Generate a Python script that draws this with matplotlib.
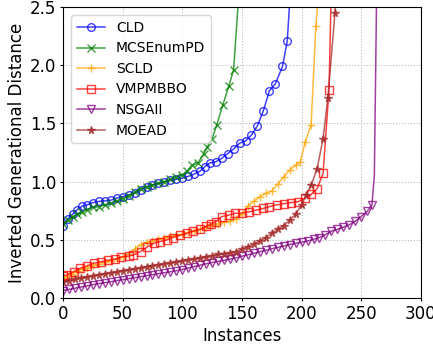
import matplotlib
matplotlib.use("Agg")
import matplotlib.pyplot as plt

# values (sorted IGD per instance)
cld_x = [0, 4, 8, 12, 16, 20, 25, 30, 35, 40, 45, 50, 55, 60, 65, 70, 75, 80,
         85, 90, 95, 100, 105, 110, 115, 119, 123, 128, 133, 138, 143, 148,
         153, 158, 163, 168, 173, 178, 184, 188, 191]
cld_y = [0.62, 0.68, 0.72, 0.76, 0.79, 0.80, 0.82, 0.83, 0.835, 0.84, 0.86,
         0.87, 0.885, 0.90, 0.93, 0.955, 0.97, 0.985, 1.0, 1.01, 1.02, 1.03,
         1.045, 1.065, 1.09, 1.13, 1.16, 1.17, 1.20, 1.24, 1.28, 1.33, 1.35,
         1.40, 1.48, 1.61, 1.78, 1.84, 1.99, 2.21, 2.7]

mcs_x = [0, 4, 8, 12, 16, 20, 25, 30, 35, 40, 45, 50, 55, 60, 65, 70, 75, 80,
         85, 90, 95, 100, 104, 108, 113, 118, 121, 125, 129, 134, 139, 143, 148]
mcs_y = [0.64, 0.67, 0.70, 0.72, 0.74, 0.76, 0.78, 0.785, 0.80, 0.815, 0.835,
         0.855, 0.88, 0.91, 0.94, 0.955, 0.97, 0.985, 1.0, 1.02, 1.04, 1.06,
         1.09, 1.14, 1.16, 1.24, 1.30, 1.37, 1.49, 1.66, 1.82, 1.96, 2.7]

scld_x = [0, 4, 8, 12, 16, 20, 25, 30, 35, 40, 45, 50, 55, 60, 65, 70, 75, 80,
          85, 90, 95, 100, 105, 110, 115, 120, 125, 130, 135, 140, 145, 150,
          155, 160, 165, 170, 175, 180, 185, 190, 195, 199, 203, 208, 212, 215]
scld_y = [0.17, 0.19, 0.21, 0.23, 0.25, 0.26, 0.28, 0.29, 0.31, 0.32, 0.335,
          0.35, 0.38, 0.42, 0.46, 0.48, 0.49, 0.505, 0.515, 0.53, 0.54, 0.55,
          0.565, 0.58, 0.59, 0.61, 0.63, 0.64, 0.65, 0.66, 0.68, 0.72, 0.79,
          0.83, 0.87, 0.90, 0.92, 0.98, 1.04, 1.10, 1.14, 1.17, 1.34, 1.49,
          2.34, 2.7]

vmp_x = [0, 3, 9, 14, 20, 26, 32, 38, 44, 49, 55, 59, 65, 70, 76, 81, 87, 92,
         98, 104, 109, 115, 120, 124, 128, 133, 139, 144, 150, 156, 162, 168,
         173, 179, 185, 191, 197, 203, 208, 213, 218, 223, 225]
vmp_y = [0.19, 0.20, 0.226, 0.255, 0.275, 0.30, 0.312, 0.326, 0.335, 0.355,
         0.36, 0.37, 0.40, 0.435, 0.47, 0.484, 0.50, 0.52, 0.54, 0.556, 0.575,
         0.59, 0.615, 0.635, 0.655, 0.70, 0.713, 0.727, 0.73, 0.74, 0.756,
         0.77, 0.785, 0.80, 0.81, 0.82, 0.827, 0.86, 0.89, 0.94, 1.07, 1.79,
         2.7]

nsga_x = [0, 5, 10, 15, 20, 25, 30, 35, 40, 45, 50, 55, 60, 65, 70, 75, 80,
          85, 90, 95, 100, 105, 110, 115, 120, 125, 130, 135, 140, 145, 150,
          155, 160, 165, 170, 175, 180, 185, 190, 195, 200, 205, 210, 215, 220,
          225, 230, 235, 240, 245, 250, 255, 259, 260, 261, 263]
nsga_y = [0.065, 0.075, 0.085, 0.095, 0.105, 0.115, 0.125, 0.132, 0.14, 0.15,
          0.158, 0.167, 0.175, 0.183, 0.193, 0.20, 0.21, 0.218, 0.226, 0.235,
          0.245, 0.258, 0.27, 0.283, 0.295, 0.305, 0.315, 0.325, 0.335, 0.345,
          0.36, 0.372, 0.385, 0.398, 0.41, 0.424, 0.435, 0.447, 0.46, 0.47,
          0.48, 0.49, 0.505, 0.52, 0.545, 0.575, 0.59, 0.61, 0.63, 0.66, 0.70,
          0.745, 0.80, 0.93, 1.05, 2.7]

moead_x = [0, 5, 10, 15, 20, 25, 30, 35, 40, 45, 50, 55, 60, 65, 70, 75, 80,
           85, 90, 95, 100, 105, 110, 115, 120, 125, 130, 135, 140, 145, 150,
           155, 160, 165, 170, 175, 180, 185, 190, 195, 200, 204, 208, 213,
           218, 222, 228, 229]
moead_y = [0.14, 0.15, 0.16, 0.17, 0.18, 0.19, 0.20, 0.21, 0.215, 0.225,
           0.235, 0.245, 0.25, 0.26, 0.27, 0.278, 0.285, 0.295, 0.30, 0.31,
           0.32, 0.33, 0.335, 0.345, 0.355, 0.365, 0.375, 0.38, 0.39, 0.40,
           0.42, 0.44, 0.465, 0.49, 0.52, 0.556, 0.59, 0.62, 0.67, 0.72, 0.80,
           0.885, 0.97, 1.11, 1.37, 1.72, 2.45, 2.7]

series = [
    ('CLD', cld_x, cld_y, 'blue', 'o', 1),
    ('MCSEnumPD', mcs_x, mcs_y, 'green', 'x', 1),
    ('SCLD', scld_x, scld_y, 'orange', '+', 1),
    ('VMPMBBO', vmp_x, vmp_y, 'red', 's', 1),
    ('NSGAII', nsga_x, nsga_y, 'purple', 'v', 3),
    ('MOEAD', moead_x, moead_y, 'brown', '*', 1),
]

fig = plt.figure(figsize=(4.33, 3.45), dpi=100)
ax = fig.add_axes([0.1455, 0.136, 0.8265, 0.8437])

for name, xs, ys, color, marker, skip in series:
    hollow = marker in ('o', 's', 'v')
    ax.plot(xs, ys, color=color, marker=marker, markersize=5.5,
            linewidth=1.1, alpha=0.75, label=name,
            markerfacecolor='none' if hollow else color,
            markevery=slice(0, len(xs) - skip))

ax.set_xlim(0, 300)
ax.set_ylim(0, 2.5)
ax.set_xticks([0, 50, 100, 150, 200, 250, 300])
ax.set_yticks([0.0, 0.5, 1.0, 1.5, 2.0, 2.5])
ax.tick_params(labelsize=12, length=2.5, pad=2.5)
ax.set_xlabel('Instances', fontsize=12, labelpad=3)
ax.set_ylabel('Inverted Generational Distance', fontsize=12, labelpad=3)
ax.grid(linestyle=':', color='#bbbbbb')
ax.legend(loc='upper left', fontsize=10, labelspacing=0.47,
          borderaxespad=0.6)

fig.savefig('out.png', dpi=100)
